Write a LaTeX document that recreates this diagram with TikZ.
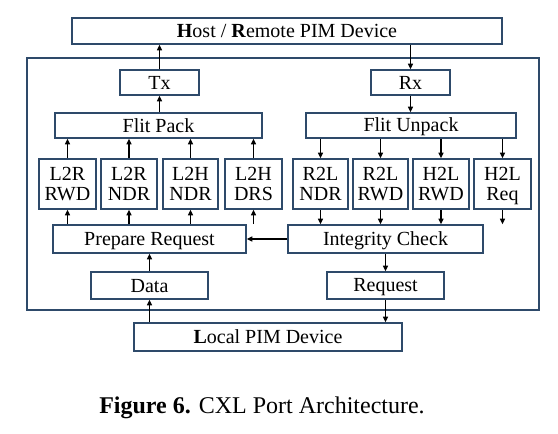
\documentclass[tikz,border=0pt]{standalone}
\usepackage{fontspec}
\setmainfont{Liberation Serif}
\usetikzlibrary{arrows.meta}
\definecolor{boxline}{HTML}{2E4A6A}
\tikzset{
  blk/.style={draw=boxline, line width=1.6pt, fill=white, inner sep=0pt, font=\fontsize{20}{22}\selectfont},
  arr/.style={-{Triangle[length=5.5pt,width=5pt]}, line width=1.3pt, black},
}
\newcommand{\mystrut}{\vrule height 17pt depth 3.8pt width 0pt\relax}
\newcommand{\bx}[6]{% name, x1,y1,x2,y2, text
  \node[blk, minimum width={#4-#2}, minimum height={#5-#3}, align=center] (#1) at ({(#2+#4)/2},{(#3+#5)/2}) {#6};}
\newcommand{\tl}[2]{#1\mystrut\\[-2.5pt]#2\mystrut}
\begin{document}
\begin{tikzpicture}[x=1pt,y=-1pt]
\useasboundingbox (0,0) rectangle (558,434);
% outer frame
\node[draw=boxline, line width=1.6pt, minimum width=512, minimum height=252, inner sep=0pt] (outer) at (283,184) {};
\bx{host}{72}{18}{502}{44}{\textbf{H}ost / \textbf{R}emote PIM Device\mystrut}
\bx{tx}{120}{70}{199}{95}{Tx\mystrut}
\bx{rx}{371}{70}{450}{95}{Rx\mystrut}
\bx{fpack}{55}{113}{262}{138}{Flit Pack\mystrut}
\bx{funpack}{306}{113}{516}{138}{Flit Unpack\mystrut}
\bx{la}{39}{159}{96}{209}{\tl{L2R}{RWD}}
\bx{lb}{101}{159}{157}{209}{\tl{L2R}{NDR}}
\bx{lc}{163}{159}{218}{209}{\tl{L2H}{NDR}}
\bx{ld}{225}{159}{282}{209}{\tl{L2H}{DRS}}
\bx{ra}{293}{159}{348}{209}{\tl{R2L}{NDR}}
\bx{rb}{353}{159}{408}{209}{\tl{R2L}{RWD}}
\bx{rc}{413}{159}{469}{209}{\tl{H2L}{RWD}}
\bx{rd}{474}{159}{531}{209}{\tl{H2L}{Req}}
\bx{prep}{53}{225}{246}{253}{Prepare Request\mystrut}
\bx{integ}{288}{225}{483}{253}{Integrity Check\mystrut}
\bx{data}{91}{272}{208}{299}{Data\mystrut}
\bx{req}{327}{272}{444}{299}{Request\mystrut}
\bx{local}{134}{323}{402}{351}{\textbf{L}ocal PIM Device\mystrut}
% arrows
\draw[arr] (tx.north) -- (tx.north |- host.south);
\draw[arr] (rx.north |- host.south) -- (rx.north);
\draw[arr] (fpack.north -| tx) -- (tx.south);
\draw[arr] (rx.south) -- (rx.south |- funpack.north);
\foreach \n in {la,lb,lc,ld}{
  \draw[arr] (prep.north -| \n) -- (\n.south);
  \draw[arr] (\n.north) -- (\n.north |- fpack.south);
}
\foreach \n in {ra,rb,rc,rd}{
  \draw[arr] (funpack.south -| \n) -- (\n.north);
  \draw[arr] (\n.south) -- (\n.south |- integ.north);
}
\draw[arr] (integ.west) -- (prep.east);
\draw[arr] (data.north) -- (data.north |- prep.south);
\draw[arr] (integ.south -| req) -- (req.north);
\draw[arr] (local.north -| data) -- (data.south);
\draw[arr] (req.south) -- (req.south |- local.north);
% caption
\node[font=\fontsize{24}{28}\selectfont] (cap) at (262,408) {\textbf{Figure 6.} CXL Port Architecture.};
\end{tikzpicture}
\end{document}
